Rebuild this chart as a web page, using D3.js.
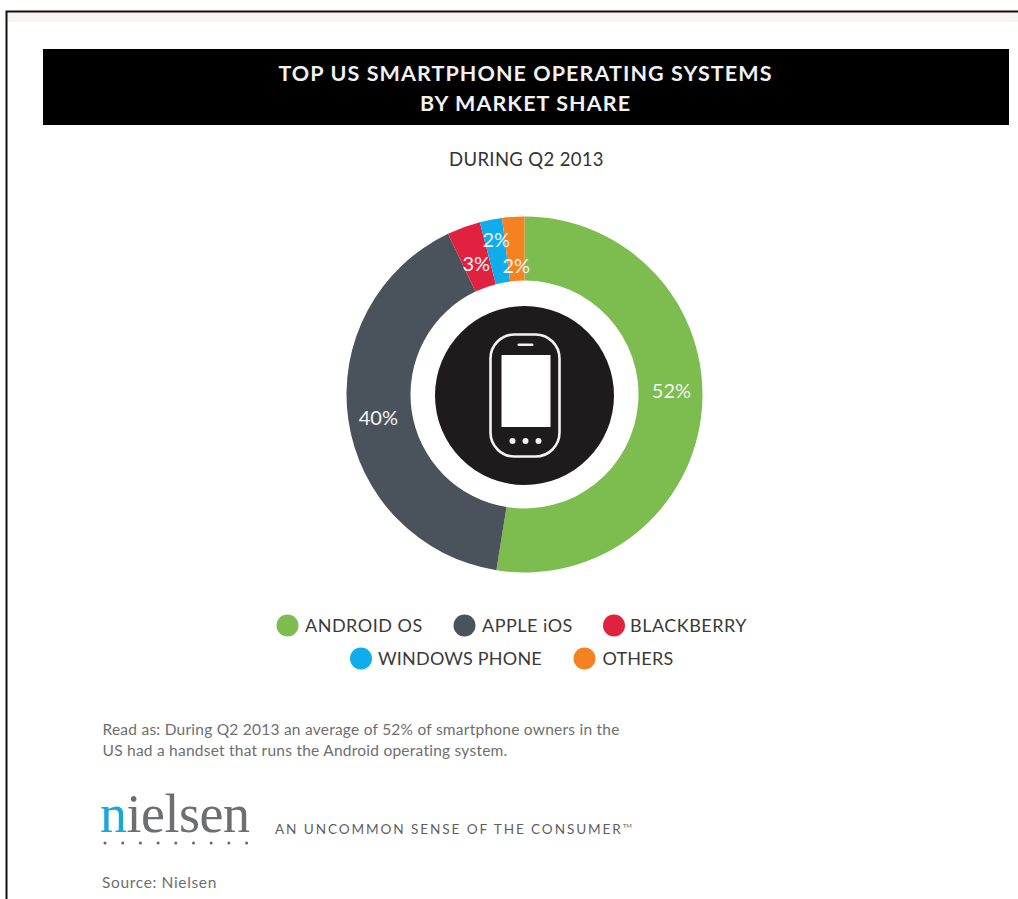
<!DOCTYPE html>
<html>
<head>
<meta charset="utf-8">
<script src="https://cdn.jsdelivr.net/npm/d3@7/dist/d3.min.js"></script>
<style>
html,body{margin:0;padding:0;background:#fff;}
svg{display:block;}
text{font-family:Lato,"Open Sans",sans-serif;}
</style>
</head>
<body>
<svg id="chart" width="1018" height="899"></svg>
<script>
// Smartphone OS share, Q2 2013 (percent)
const systems = ["ANDROID OS", "APPLE iOS", "BLACKBERRY", "WINDOWS PHONE", "OTHERS"];
const shares = [52, 40, 3, 2, 2];
const sliceColors = ["#7dbd4f", "#4a535b", "#e0213f", "#0fadec", "#f58220"];
const titleLines = ["TOP US SMARTPHONE OPERATING SYSTEMS", "BY MARKET SHARE"];
const subtitle = "DURING Q2 2013";
const noteLines = [
  "Read as: During Q2 2013 an average of 52% of smartphone owners in the",
  "US had a handset that runs the Android operating system."
];

const svg = d3.select("#chart");

// Page frame
svg.append("rect").attr("x", 7).attr("y", 12).attr("width", 1011).attr("height", 10).attr("fill", "#f8f5f2");
svg.append("path").attr("d", "M6.5,899V11.5H1018").attr("fill", "none").attr("stroke", "#111").attr("stroke-width", 2);

// Title band
svg.append("rect").attr("x", 43).attr("y", 49).attr("width", 966).attr("height", 76).attr("fill", "#000");
svg.selectAll("text.title").data(titleLines).join("text")
  .attr("class", "title")
  .attr("x", 525.5).attr("y", (d, i) => 81 + i * 30)
  .attr("text-anchor", "middle")
  .attr("font-size", 21.5).attr("font-weight", 700).attr("letter-spacing", 1.08)
  .attr("fill", "#f2f2f2").text(d => d);

svg.append("text").attr("x", 526.5).attr("y", 166).attr("text-anchor", "middle")
  .attr("font-size", 18.5).attr("letter-spacing", 0.35).attr("fill", "#333").text(subtitle);

// Donut
const cx = 524.5, cy = 394.5;
const pie = d3.pie().sort(null).value(d => d);
const arc = d3.arc().innerRadius(114).outerRadius(178);
const donut = svg.append("g").attr("transform", `translate(${cx},${cy})`);
const arcs = pie(shares);
donut.selectAll("path").data(arcs).join("path")
  .attr("d", arc).attr("fill", (d, i) => sliceColors[i]);

// Value labels sit at per-slice radii so the narrow wedges stay legible
const labelRadius = [147, 148, 139, 157, 129];
const labelAngleShift = [-0.103, -0.013, -0.005, 0.01, 0];
donut.selectAll("text").data(arcs).join("text")
  .attr("transform", (d, i) => {
    const a = (d.startAngle + d.endAngle) / 2 + labelAngleShift[i];
    return `translate(${Math.sin(a) * labelRadius[i]},${-Math.cos(a) * labelRadius[i]})`;
  })
  .attr("text-anchor", "middle").attr("dy", "0.36em")
  .attr("font-size", 20).attr("fill", "#f4f4f4")
  .text(d => d.value + "%");

// Phone emblem
const hub = svg.append("g").attr("transform", `translate(${cx},${cy})`);
hub.append("circle").attr("cy", 1).attr("r", 89.5).attr("fill", "#1d1b1c");
hub.append("rect").attr("x", -34).attr("y", -60).attr("width", 69).attr("height", 122).attr("rx", 24)
  .attr("fill", "none").attr("stroke", "#f2f2f2").attr("stroke-width", 2.6);
hub.append("rect").attr("x", -23).attr("y", -39.5).attr("width", 49).attr("height", 72).attr("fill", "#fff");
hub.append("rect").attr("x", -7).attr("y", -51).attr("width", 16).attr("height", 2.6).attr("rx", 1.3).attr("fill", "#f2f2f2");
hub.selectAll("circle.key").data([-12, 1, 14]).join("circle")
  .attr("class", "key").attr("cx", d => d).attr("cy", 46.5).attr("r", 3).attr("fill", "#f2f2f2");

// Legend
const legendRows = [[0, 1, 2], [3, 4]];
const dotX = [287.5, 464.5, 614, 361, 584.5];
const labelX = [305, 482, 630, 378, 602.5];
const rowY = [625.5, 658.5];
const rowSpacing = [0.5, 0.2];
legendRows.forEach((row, r) => {
  const g = svg.append("g");
  g.selectAll("circle").data(row).join("circle")
    .attr("cx", d => dotX[d]).attr("cy", rowY[r]).attr("r", 11)
    .attr("fill", d => sliceColors[d]);
  g.selectAll("text").data(row).join("text")
    .attr("x", d => labelX[d]).attr("y", rowY[r] + 6.5)
    .attr("font-size", 18).attr("fill", "#3a3a3a").attr("letter-spacing", rowSpacing[r])
    .text(d => systems[d]);
});

// Footnote
svg.selectAll("text.note").data(noteLines).join("text")
  .attr("class", "note").attr("x", 102.5).attr("y", (d, i) => 735 + i * 21)
  .attr("font-size", 15.5).attr("letter-spacing", 0.24).attr("fill", "#6e6e6e").text(d => d);

// Wordmark and strapline
const mark = svg.append("text").attr("x", 100).attr("y", 832)
  .attr("font-size", 54).attr("fill", "#6d6e70")
  .style("font-family", "'Liberation Serif',serif").attr("letter-spacing", -0.5);
mark.append("tspan").attr("fill", "#1aa7dc").text("n");
mark.append("tspan").text("ielsen");
svg.selectAll("circle.stud").data(d3.range(9)).join("circle")
  .attr("class", "stud").attr("cx", d => 105 + d * 17.7).attr("cy", 843).attr("r", 1.5).attr("fill", "#666");
const strap = svg.append("text").attr("x", 275).attr("y", 833.5)
  .attr("font-size", 13.6).attr("fill", "#5f5f5f").attr("letter-spacing", 1.9)
  .text("AN UNCOMMON SENSE OF THE CONSUMER");
strap.append("tspan").attr("font-size", 6).attr("dy", -6).attr("letter-spacing", 0).text("TM");

svg.append("text").attr("x", 102).attr("y", 888).attr("font-size", 15.5).attr("letter-spacing", 0.65).attr("fill", "#6e6e6e").text("Source: Nielsen");
</script>
</body>
</html>
